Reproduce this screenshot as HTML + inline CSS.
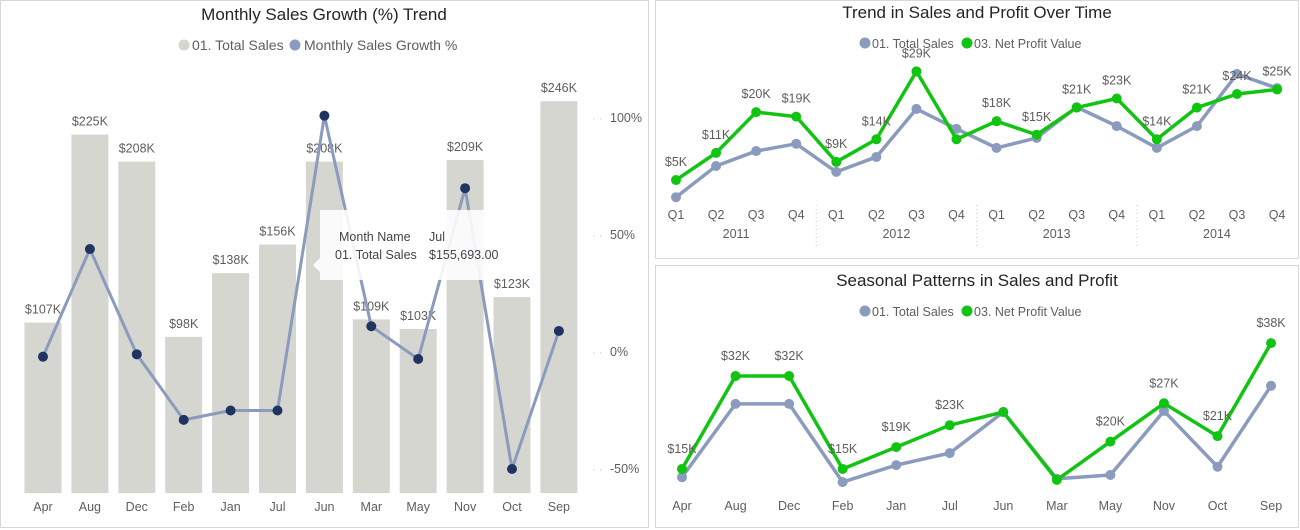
<!DOCTYPE html>
<html><head><meta charset="utf-8">
<style>
body{margin:0;width:1300px;height:530px;background:#fff;overflow:hidden;font-family:"Liberation Sans",sans-serif}
svg{position:absolute;left:0;top:0}
text{font-family:"Liberation Sans",sans-serif}
</style></head>
<body>
<svg id="s" width="1300" height="530">
<rect x="0.5" y="0.5" width="648" height="527" fill="#fff" stroke="#d8d8d8"/>
<rect x="655.5" y="0.5" width="643" height="258" fill="#fff" stroke="#d8d8d8"/>
<rect x="655.5" y="265.5" width="643" height="262" fill="#fff" stroke="#d8d8d8"/>
<text x="324" y="20" text-anchor="middle" font-size="17" fill="#252423">Monthly Sales Growth (%) Trend</text>
<g font-size="14" fill="#605e5c">
<circle cx="184" cy="45" r="5.5" fill="#d6d6d0"/><text x="192" y="50">01. Total Sales</text>
<circle cx="295" cy="45" r="5.5" fill="#8a9bbd"/><text x="304" y="50">Monthly Sales Growth %</text>
</g>
<text x="977" y="18" text-anchor="middle" font-size="17" fill="#252423">Trend in Sales and Profit Over Time</text>
<g font-size="12.5" fill="#605e5c">
<circle cx="865" cy="43" r="5.5" fill="#8a9bbd"/><text x="872" y="48">01. Total Sales</text>
<circle cx="967" cy="43" r="5.5" fill="#12c412"/><text x="974" y="48">03. Net Profit Value</text>
</g>
<text x="977" y="286" text-anchor="middle" font-size="17" fill="#252423">Seasonal Patterns in Sales and Profit</text>
<g font-size="12.5" fill="#605e5c">
<circle cx="865" cy="311" r="5.5" fill="#8a9bbd"/><text x="872" y="316">01. Total Sales</text>
<circle cx="967" cy="311" r="5.5" fill="#12c412"/><text x="974" y="316">03. Net Profit Value</text>
</g>
</svg>
<script>
// ---- left chart data ----
const months = ["Apr","Aug","Dec","Feb","Jan","Jul","Jun","Mar","May","Nov","Oct","Sep"];
const salesK = [107,225,208,98,138,156,208,109,103,209,123,246];
const growthPct = [-2,44,-1,-29,-25,-25,101,11,-3,70,-50,9];
const growthTicks = [100,50,0,-50];
// ---- trend chart data ----
const quarters = ["Q1","Q2","Q3","Q4","Q1","Q2","Q3","Q4","Q1","Q2","Q3","Q4","Q1","Q2","Q3","Q4"];
const years = ["2011","2012","2013","2014"];
const trendSales = [1.2,8.1,11.4,13.0,6.8,10.1,20.7,16.3,12.1,14.3,21.1,16.9,12.1,16.9,28.4,25.3];
const trendProfit = [5,11,20,19,9,14,29,14,18,15,21,23,14,21,24,25];
const trendProfitLabels = ["$5K","$11K","$20K","$19K","$9K","$14K","$29K","","$18K","$15K","$21K","$23K","$14K","$21K","$24K","$25K"];
// ---- seasonal chart data ----
const seasonMonths = ["Apr","Aug","Dec","Feb","Jan","Jul","Jun","Mar","May","Nov","Oct","Sep"];
const seasonSales = [13.5,26.9,26.9,12.6,15.7,17.9,25.4,13.2,13.9,25.6,15.4,30.2];
const seasonProfit = [15,32,32,15,19,23,25.4,13,20,27,21,38];
const seasonProfitLabels = ["$15K","$32K","$32K","$15K","$19K","$23K","","","$20K","$27K","$21K","$38K"];

const svg = document.getElementById('s');
const NS = "http://www.w3.org/2000/svg";
function mk(tag, attrs, parent){const e=document.createElementNS(NS,tag);for(const k in attrs)e.setAttribute(k,attrs[k]);(parent||svg).appendChild(e);return e;}

// Left chart axes
const lx = i => 43 + i*46.9;
const lyBar = v => 493 - v*1.593;
const lyG = v => 352 - v*2.34;
const gBars = mk('g',{});
months.forEach((m,i)=>{
  const r = mk('rect',{x:lx(i)-18.5,y:lyBar(salesK[i]),width:37,height:493-lyBar(salesK[i]),fill:"#d6d6d0"},gBars);
  
  
  const t = mk('text',{x:lx(i),y:lyBar(salesK[i])-9,'text-anchor':'middle','font-size':12.5,fill:'#605e5c'},gBars);
  t.textContent = '$'+salesK[i]+'K';
  
  
  const xl = mk('text',{x:lx(i),y:511,'text-anchor':'middle','font-size':12.5,fill:'#605e5c'});
  xl.textContent = m;
  
  
});
growthTicks.forEach(v=>{
  const t = mk('text',{x:610,y:lyG(v)+4,'font-size':12.5,fill:'#605e5c'});
  t.textContent = v+'%';
  
  
  mk('text',{x:592,y:lyG(v)+4,'font-size':11,fill:'#ccc'}).textContent='· ·';
});
const gl = mk('polyline',{points:growthPct.map((v,i)=>lx(i)+','+lyG(v)).join(' '),fill:'none',stroke:'#8a9bbd','stroke-width':3,'stroke-linejoin':'round'});


growthPct.forEach((v,i)=>{
  const c = mk('circle',{cx:lx(i),cy:lyG(v),r:5,fill:'#1f3461'});
  
  
});
// tooltip
const tip = mk('g',{});


mk('rect',{x:320,y:210,width:165,height:70,fill:'#fff','fill-opacity':0.88},tip);
mk('path',{d:'M320 258 L313 265 L320 272 Z',fill:'#fff','fill-opacity':0.88},tip);
[["Month Name",339,241],["Jul",429,241],["01. Total Sales",335,259],["$155,693.00",429,259]].forEach(a=>{
  mk('text',{x:a[1],y:a[2],'font-size':12.5,fill:'#444'},tip).textContent=a[0];
});

// Trend chart
const tx = i => 676 + i*40.07;
const tyP = v => 202.7 - v*4.53;
const tyS = v => 202.7 - v*4.53;
function line(vals, xf, yf, color, name){
  const p = mk('polyline',{points:vals.map((v,i)=>xf(i)+','+yf(v)).join(' '),fill:'none',stroke:color,'stroke-width':3.5,'stroke-linejoin':'round'});
  
  
  vals.forEach((v,i)=>{
    const c = mk('circle',{cx:xf(i),cy:yf(v),r:5,fill:color});
    
    
  });
}
line(trendSales, tx, tyS, '#8a9bbd', 'trend-sales');
line(trendProfit, tx, tyP, '#12c412', 'trend-profit');
trendProfit.forEach((v,i)=>{
  if(!trendProfitLabels[i]) return;
  const t = mk('text',{x:tx(i),y:tyP(v)-14,'text-anchor':'middle','font-size':12.5,fill:'#605e5c'});
  t.textContent = trendProfitLabels[i];
  
  
});
quarters.forEach((q,i)=>{
  const t = mk('text',{x:tx(i),y:219,'text-anchor':'middle','font-size':12.5,fill:'#605e5c'});
  t.textContent = q;
  
  
});
years.forEach((y,k)=>{
  const t = mk('text',{x:(tx(k*4)+tx(k*4+3))/2,y:238,'text-anchor':'middle','font-size':12.5,fill:'#605e5c'});
  t.textContent = y;
  
  
  if(k>0){const s=mk('line',{x1:tx(k*4)-20,x2:tx(k*4)-20,y1:205,y2:246,stroke:'#ccc','stroke-dasharray':'1 3'});
    
    }
});

// Seasonal chart
const sx = i => 682 + i*53.55;
const syP = v => 551 - v*5.47;
const syS = v => 551 - v*5.47;
line(seasonSales, sx, syS, '#8a9bbd', 'seasonal-sales');
line(seasonProfit, sx, syP, '#12c412', 'seasonal-profit');
seasonProfit.forEach((v,i)=>{
  if(!seasonProfitLabels[i]) return;
  const t = mk('text',{x:sx(i),y:syP(v)-16,'text-anchor':'middle','font-size':12.5,fill:'#605e5c'});
  t.textContent = seasonProfitLabels[i];
  
  
});
seasonMonths.forEach((m,i)=>{
  const t = mk('text',{x:sx(i),y:510,'text-anchor':'middle','font-size':12.5,fill:'#605e5c'});
  t.textContent = m;
  
  
});
</script>
</body></html>
